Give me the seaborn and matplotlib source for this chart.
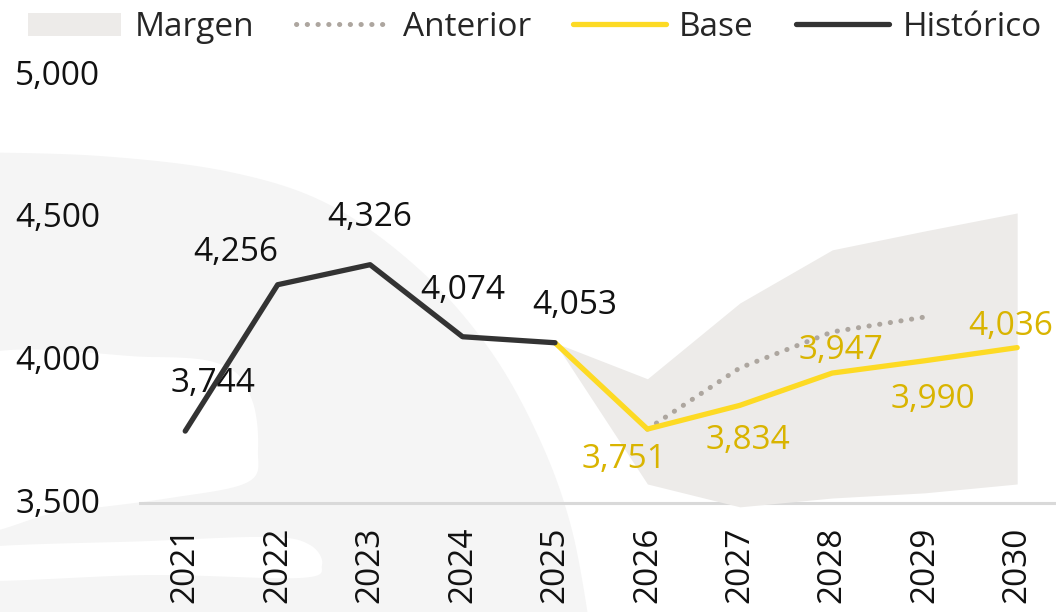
import matplotlib
matplotlib.use("Agg")
import matplotlib.pyplot as plt
from matplotlib.patches import Polygon, Patch
from matplotlib.lines import Line2D
import numpy as np
import seaborn as sns
import pandas as pd

# ---------------- data ----------------
hist_years = [2021, 2022, 2023, 2024, 2025]
hist_vals = [3744, 4256, 4326, 4074, 4053]

base_years = [2025, 2026, 2027, 2028, 2029, 2030]
base_vals = [4053, 3751, 3834, 3947, 3990, 4036]

prev_years = [2026, 2027, 2028, 2029]
prev_vals = [3751, 3965, 4091, 4143]

band_years = [2025, 2026, 2027, 2028, 2029, 2030]
band_low = [4053, 3559, 3479, 3510, 3528, 3559]
band_high = [4053, 3927, 4192, 4378, 4444, 4507]

year_ticks = list(range(2021, 2031))
y_ticks = [3500, 4000, 4500, 5000]
legend_labels = ["Margen", "Anterior", "Base", "Histórico"]

# label placement (offsets in points), style only
hist_off = [(20, 34), (-30, 23), (0, 34), (0, 33), (14, 27)]
base_off = [None, (-17, -22), (6, -25), (6, 16), (6, -28), (-5, 15)]

# ---------------- style ----------------
C_HIST = "#333333"
C_BASE = "#FDDA24"
C_BASE_TXT = "#D9B400"
C_PREV = "#ADA69F"
C_BAND = "#EDEBE9"
C_WM = "#F5F5F5"
C_AXIS = "#D9D9D9"

sns.set_theme(style="white")
plt.rcParams["font.family"] = ["Open Sans", "DejaVu Sans"]
FS = 24

W, H = 1056, 612
fig = plt.figure(figsize=(W / 100, H / 100), dpi=100)
ax = fig.add_axes([139 / W, 1 - 518 / H, 1 - 139 / W, (518 - 60) / H])
ax.patch.set_alpha(0)


def smooth(pts, n=12, closed=True):
    p = np.array(pts, dtype=float)
    if closed:
        p = np.vstack([p[-1], p, p[0], p[1]])
    else:
        p = np.vstack([p[0], p, p[-1]])
    out = []
    for i in range(1, len(p) - 2):
        p0, p1, p2, p3 = p[i - 1], p[i], p[i + 1], p[i + 2]
        for t in np.linspace(0, 1, n, endpoint=False):
            t2, t3 = t * t, t * t * t
            out.append(0.5 * ((2 * p1) + (-p0 + p2) * t +
                              (2 * p0 - 5 * p1 + 4 * p2 - p3) * t2 +
                              (-p0 + 3 * p1 - 3 * p2 + p3) * t3))
    return np.array(out)


def fp(pts):
    pts = np.asarray(pts, dtype=float)
    return np.column_stack([pts[:, 0] / W, 1 - pts[:, 1] / H])


def add_shape(pts, color, z):
    fig.patches.append(Polygon(fp(pts), closed=True, transform=fig.transFigure,
                               facecolor=color, edgecolor="none", zorder=z))


# faint background watermark
wm_top = smooth([(-40, 152), (100, 156), (230, 172), (330, 205), (420, 270),
                 (490, 350), (540, 440), (572, 530), (592, 640)], closed=False)
wm_outer = np.vstack([wm_top, [(592, 640), (-40, 640)]])
add_shape(wm_outer, C_WM, -10)
hole1 = smooth([(-40, 364), (150, 357), (225, 366), (252, 400), (258, 450),
                (248, 482), (170, 498), (60, 512), (-40, 524)], closed=True)
add_shape(hole1, "white", -9)
hole2 = smooth([(-40, 550), (150, 541), (270, 537), (310, 545), (322, 565),
                (300, 578), (150, 575), (-40, 580)], closed=True)
add_shape(hole2, "white", -9)

# band
ax.fill_between(band_years, band_low, band_high, color=C_BAND, lw=0, zorder=1,
                clip_on=False)

df_prev = pd.DataFrame({"year": prev_years, "v": prev_vals})
df_base = pd.DataFrame({"year": base_years, "v": base_vals})
df_hist = pd.DataFrame({"year": hist_years, "v": hist_vals})

sns.lineplot(data=df_prev, x="year", y="v", ax=ax, color=C_PREV, lw=3.6,
             linestyle=(0, (0.05, 2.1)), dash_capstyle="round", zorder=2,
             legend=False)
sns.lineplot(data=df_base, x="year", y="v", ax=ax, color=C_BASE, lw=3.8,
             solid_capstyle="round", zorder=3, legend=False)
sns.lineplot(data=df_hist, x="year", y="v", ax=ax, color=C_HIST, lw=3.8,
             solid_capstyle="round", zorder=4, legend=False)

for x, v, off in zip(hist_years, hist_vals, hist_off):
    ax.annotate(f"{v:,}", (x, v), xytext=off, textcoords="offset points",
                ha="center", va="center", fontsize=FS, color="#111111", zorder=6)
for x, v, off in zip(base_years, base_vals, base_off):
    if off is None:
        continue
    ax.annotate(f"{v:,}", (x, v), xytext=off, textcoords="offset points",
                ha="center", va="center", fontsize=FS, color=C_BASE_TXT, zorder=6)

ax.axhline(3493, color=C_AXIS, lw=2.2, zorder=0.5)

ax.set_xlim(2020.5, 2030.42)
ax.set_ylim(3440, 5042)
ax.set_xticks(year_ticks)
ax.set_xticklabels([str(y) for y in year_ticks], rotation=90, fontsize=FS,
                   color="#111111", va="top")
ax.set_yticks(y_ticks)
ax.set_yticklabels([f"{v:,}" for v in y_ticks], fontsize=FS, color="#111111")
ax.tick_params(axis="x", length=0, pad=6)
ax.tick_params(axis="y", length=0, pad=28)
ax.set_xlabel("")
ax.set_ylabel("")
for s in ax.spines.values():
    s.set_visible(False)

handles = [
    Patch(facecolor=C_BAND, edgecolor="none"),
    Line2D([], [], color=C_PREV, lw=3.6, linestyle=(0, (0.05, 2.1)),
           dash_capstyle="round"),
    Line2D([], [], color=C_BASE, lw=3.8, solid_capstyle="round"),
    Line2D([], [], color=C_HIST, lw=3.8, solid_capstyle="round"),
]
fig.legend(handles, legend_labels, loc="upper left", bbox_to_anchor=(28 / W, 1 - 11 / H),
           ncol=4, frameon=False, fontsize=FS, handlelength=2.8, handletextpad=0.4,
           columnspacing=1.25, borderaxespad=0, borderpad=0, handleheight=0.7)

fig.savefig("out.png", dpi=100)
